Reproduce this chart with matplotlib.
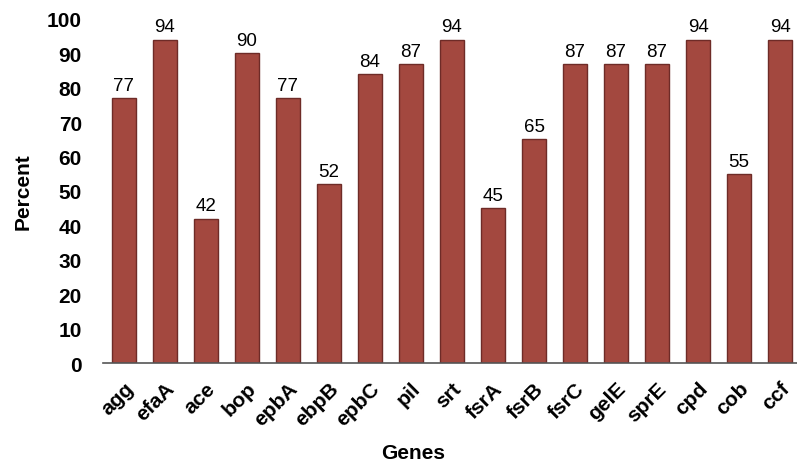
import matplotlib
matplotlib.use("Agg")
import matplotlib.pyplot as plt

genes = ["agg", "efaA", "ace", "bop", "epbA", "ebpB", "epbC", "pil", "srt",
         "fsrA", "fsrB", "fsrC", "gelE", "sprE", "cpd", "cob", "ccf"]
percent = [77, 94, 42, 90, 77, 52, 84, 87, 94, 45, 65, 87, 87, 87, 94, 55, 94]

plt.rcParams['font.family'] = ['Liberation Sans', 'DejaVu Sans']

fig = plt.figure(figsize=(7.97, 4.64), dpi=100)
ax = fig.add_axes([0.129, 0.2155, 0.871, 0.7415])

x = range(len(genes))
bars = ax.bar(x, percent, width=0.59, color='#A3483F', edgecolor='#6E2B27', linewidth=1.0)

for xi, v in zip(x, percent):
    ax.annotate(str(v), (xi, v), xytext=(0, 3), textcoords='offset points',
                ha='center', va='bottom', fontsize=13.5, color='black', annotation_clip=False)

ax.set_xlim(-0.51, 16.41)
ax.set_ylim(0, 100)
ax.set_yticks(range(0, 101, 10))
ax.set_xticks(list(x))
ax.set_xticklabels(genes, rotation=45, ha='right', rotation_mode='anchor', fontsize=15, fontweight='bold')
for lab in ax.get_yticklabels():
    lab.set_fontweight('bold')
    lab.set_fontsize(15)
ax.tick_params(axis='both', length=0)
ax.tick_params(axis='y', pad=15)
ax.tick_params(axis='x', pad=11)

for s in ['top', 'right', 'left']:
    ax.spines[s].set_visible(False)
ax.spines['bottom'].set_color('#555555')
ax.spines['bottom'].set_linewidth(1.2)

ax.set_ylabel('Percent', fontsize=15, fontweight='bold', labelpad=10)
ax.set_xlabel('Genes', fontsize=15, fontweight='bold', labelpad=10, x=0.447)

plt.savefig('out.png', dpi=100)
